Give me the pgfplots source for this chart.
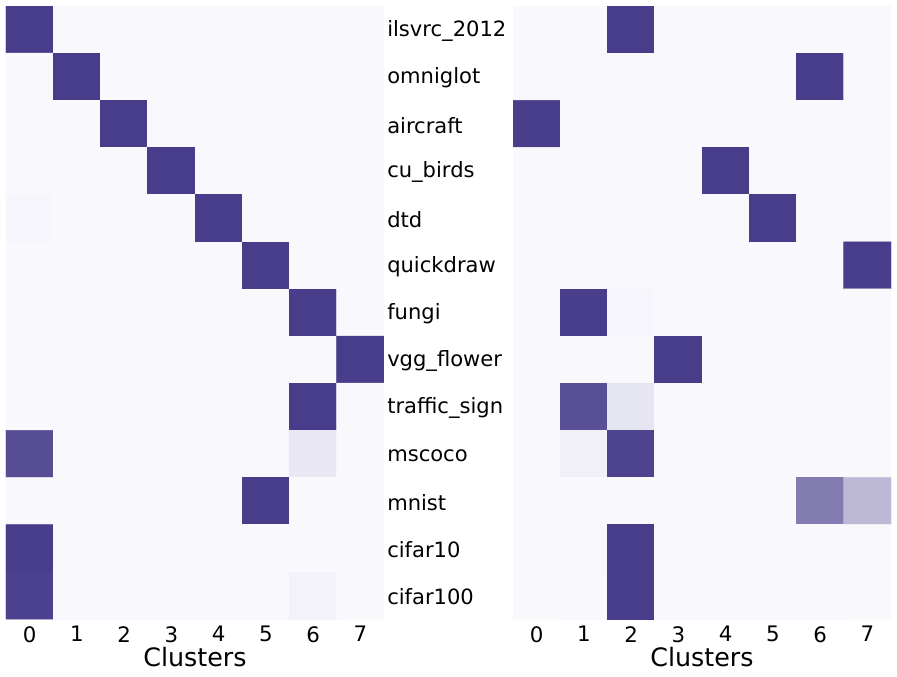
\documentclass[border=0pt]{standalone}
\usepackage{fontspec}
\setmainfont{DejaVu Sans}
\usepackage{pgfplots}
\pgfplotsset{compat=1.18}

\pgfplotsset{
  clustermap/.style={
    scale only axis,
    width=283.5pt, height=459.75pt,
    anchor=north west,
    enlargelimits=false,
    xmin=-0.5, xmax=7.5, ymin=-0.5, ymax=12.5,
    y dir=reverse,
    axis line style={draw=none},
    tick style={draw=none},
    major tick length=0pt,
    xtick={0,...,7},
    /pgf/number format/assume math mode=true,
    xticklabel style={font=\fontsize{16}{19}\selectfont, yshift=-2pt},
    xlabel={Clusters},
    xlabel style={font=\fontsize{19}{22}\selectfont, yshift=3.5pt},
    colormap={purp}{rgb255=(248,248,253) rgb255=(72,61,139)},
    point meta min=0, point meta max=1,
  },
}

\begin{document}
\begin{tikzpicture}
\useasboundingbox (0,0) rectangle (672.75pt,-507.75pt);

% left: row labels on the right side
\begin{axis}[clustermap,
  at={(4.5pt,-4.5pt)},
  ytick={0,...,12},
  yticklabel pos=right,
  yticklabels={ilsvrc\_2012,omniglot,aircraft,cu\_birds,dtd,quickdraw,fungi,vgg\_flower,traffic\_sign,mscoco,mnist,cifar10,cifar100},
  yticklabel style={font=\fontsize{15.8}{18}\selectfont, anchor=west, inner sep=0pt, xshift=2.25pt, yshift=-1pt},
]
\addplot[matrix plot*, mesh/cols=8, point meta=explicit, draw=none] table[meta=c] {
x y c
0 0 1.00
1 0 0
2 0 0
3 0 0
4 0 0
5 0 0
6 0 0
7 0 0
0 1 0
1 1 1.00
2 1 0
3 1 0
4 1 0
5 1 0
6 1 0
7 1 0
0 2 0
1 2 0
2 2 1.00
3 2 0
4 2 0
5 2 0
6 2 0
7 2 0
0 3 0
1 3 0
2 3 0
3 3 1.00
4 3 0
5 3 0
6 3 0
7 3 0
0 4 0.008
1 4 0
2 4 0
3 4 0
4 4 0.99
5 4 0
6 4 0
7 4 0
0 5 0
1 5 0
2 5 0
3 5 0
4 5 0
5 5 1.00
6 5 0
7 5 0
0 6 0
1 6 0
2 6 0
3 6 0
4 6 0
5 6 0
6 6 1.00
7 6 0
0 7 0
1 7 0
2 7 0
3 7 0
4 7 0
5 7 0
6 7 0
7 7 1.00
0 8 0
1 8 0
2 8 0
3 8 0
4 8 0
5 8 0
6 8 1.00
7 8 0
0 9 0.91
1 9 0
2 9 0
3 9 0
4 9 0
5 9 0
6 9 0.09
7 9 0
0 10 0
1 10 0
2 10 0
3 10 0
4 10 0
5 10 1.00
6 10 0
7 10 0
0 11 1.00
1 11 0
2 11 0
3 11 0
4 11 0
5 11 0
6 11 0
7 11 0
0 12 0.97
1 12 0
2 12 0
3 12 0
4 12 0
5 12 0
6 12 0.03
7 12 0
};
\end{axis}

% right
\begin{axis}[clustermap,
  at={(384.75pt,-4.5pt)},
  ytick=\empty,
]
\addplot[matrix plot*, mesh/cols=8, point meta=explicit, draw=none] table[meta=c] {
x y c
0 0 0
1 0 0
2 0 1.00
3 0 0
4 0 0
5 0 0
6 0 0
7 0 0
0 1 0
1 1 0
2 1 0
3 1 0
4 1 0
5 1 0
6 1 1.00
7 1 0
0 2 1.00
1 2 0
2 2 0
3 2 0
4 2 0
5 2 0
6 2 0
7 2 0
0 3 0
1 3 0
2 3 0
3 3 0
4 3 1.00
5 3 0
6 3 0
7 3 0
0 4 0
1 4 0
2 4 0
3 4 0
4 4 0
5 4 1.00
6 4 0
7 4 0
0 5 0
1 5 0
2 5 0
3 5 0
4 5 0
5 5 0
6 5 0
7 5 1.00
0 6 0
1 6 0.99
2 6 0.01
3 6 0
4 6 0
5 6 0
6 6 0
7 6 0
0 7 0
1 7 0
2 7 0
3 7 1.00
4 7 0
5 7 0
6 7 0
7 7 0
0 8 0
1 8 0.90
2 8 0.10
3 8 0
4 8 0
5 8 0
6 8 0
7 8 0
0 9 0
1 9 0.04
2 9 0.96
3 9 0
4 9 0
5 9 0
6 9 0
7 9 0
0 10 0
1 10 0
2 10 0
3 10 0
4 10 0
5 10 0
6 10 0.66
7 10 0.34
0 11 0
1 11 0.005
2 11 0.995
3 11 0
4 11 0
5 11 0
6 11 0
7 11 0
0 12 0
1 12 0
2 12 1.00
3 12 0
4 12 0
5 12 0
6 12 0
7 12 0
};
\end{axis}
\end{tikzpicture}
\end{document}
